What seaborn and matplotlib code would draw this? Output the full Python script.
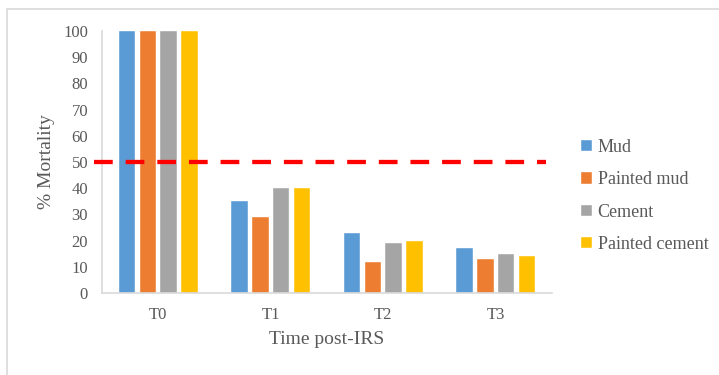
import matplotlib
matplotlib.use('Agg')
import matplotlib.pyplot as plt
import seaborn as sns
import pandas as pd
from matplotlib.patches import Rectangle

times = ['T0', 'T1', 'T2', 'T3']
surfaces = ['Mud', 'Painted mud', 'Cement', 'Painted cement']
mud = [100, 35, 23, 17]
painted_mud = [100, 29, 12, 13]
cement = [100, 40, 19, 15]
painted_cement = [100, 40, 20, 14]
threshold = 50
colors = ['#5B9BD5', '#ED7D31', '#A5A5A5', '#FFC000']

rows = []
for name, vals in zip(surfaces, [mud, painted_mud, cement, painted_cement]):
    for t, v in zip(times, vals):
        rows.append({'time': t, 'surface': name, 'mortality': v})
df = pd.DataFrame(rows)

sns.set_style('white')
plt.rcParams['font.family'] = ['Liberation Serif', 'DejaVu Serif']
text_col = '#595959'
line_col = '#D9D9D9'

fig = plt.figure(figsize=(7.19, 3.75), dpi=100)
# chart frame
fig.patches.append(Rectangle((7 / 719, -0.1), 1.0, (375 - 9) / 375 + 0.1, transform=fig.transFigure,
                             fill=False, edgecolor=line_col, linewidth=1.2))
ax = fig.add_axes([102 / 719, (375 - 293) / 375, (552 - 102) / 719, (293 - 31) / 375])

sns.barplot(data=df, x='time', y='mortality', hue='surface', hue_order=surfaces,
            palette=colors, width=0.74, gap=0.2, saturation=1, ax=ax,
            edgecolor='white', linewidth=0.3)

# 50% threshold
ax.axhline(threshold, xmin=-8 / 450, xmax=444 / 450, color='#FF0000', linewidth=3.1,
           linestyle=(0, (4.35, 3.0)), zorder=5, clip_on=False)

ax.set_ylim(0, 100)
ax.set_yticks(range(0, 101, 10))
ax.set_xlim(-0.5, 3.5)
for s in ['top', 'right']:
    ax.spines[s].set_visible(False)
for s in ['bottom', 'left']:
    ax.spines[s].set_color(line_col)
    ax.spines[s].set_linewidth(1.2)
ax.tick_params(axis='both', colors=text_col, labelsize=12)
ax.tick_params(axis='y', length=3, width=1.2, color=line_col, pad=7)
ax.tick_params(axis='x', length=0, pad=10)
ax.set_ylabel('% Mortality', color=text_col, fontsize=14, labelpad=6)
ax.set_xlabel('Time post-IRS', color=text_col, fontsize=14, labelpad=6)

ax.legend(loc='center left', bbox_to_anchor=(565 / 719, (375 - 196) / 375),
          bbox_transform=fig.transFigure, frameon=False, fontsize=13,
          handlelength=0.6, handleheight=0.6, handletextpad=0.3,
          labelspacing=0.85, labelcolor=text_col)

fig.savefig('out.png', dpi=100)
